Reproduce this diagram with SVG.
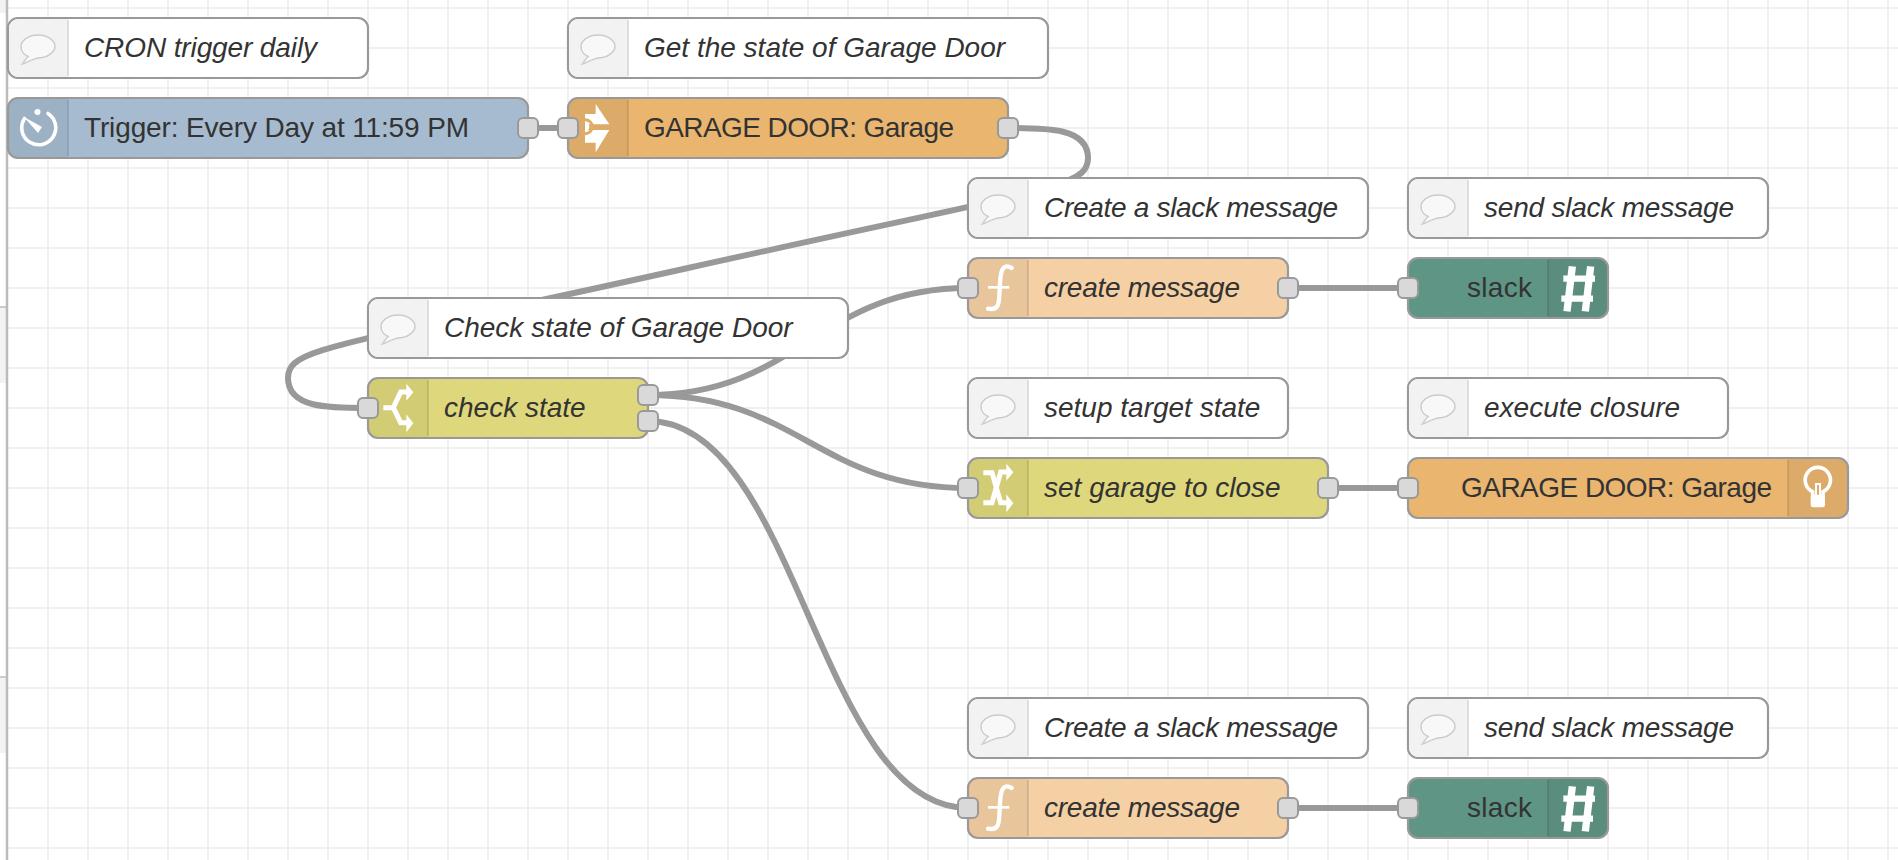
<svg xmlns="http://www.w3.org/2000/svg" width="1898" height="860" viewBox="0 0 1898 860">
<style>
.g{stroke:#f0f0f0;stroke-width:2;fill:none}
.w{stroke:#999;stroke-width:6;fill:none}
.b{stroke:#999;stroke-width:2.200}
.p{fill:#d9d9d9;stroke:#999;stroke-width:2}
.sh{fill:#000;fill-opacity:.05}
.sep{stroke:#000;stroke-opacity:.1;stroke-width:2}
text{font-family:"Liberation Sans",Arial,sans-serif;font-size:28px;fill:#333}
.i{font-style:italic}
.c{fill:#fff}
.cs{fill:#f2f2f2}
.csep{stroke:#ddd;stroke-width:2}
.ic{fill:none;stroke:#fff}
.if{fill:#fff}
</style>
<defs>
<path id="grid" class="g" d="M48 0V860M88 0V860M128 0V860M168 0V860M208 0V860M248 0V860M288 0V860M328 0V860M368 0V860M408 0V860M448 0V860M488 0V860M528 0V860M568 0V860M608 0V860M648 0V860M688 0V860M728 0V860M768 0V860M808 0V860M848 0V860M888 0V860M928 0V860M968 0V860M1008 0V860M1048 0V860M1088 0V860M1128 0V860M1168 0V860M1208 0V860M1248 0V860M1288 0V860M1328 0V860M1368 0V860M1408 0V860M1448 0V860M1488 0V860M1528 0V860M1568 0V860M1608 0V860M1648 0V860M1688 0V860M1728 0V860M1768 0V860M1808 0V860M1848 0V860M1888 0V860M8 8H1898M8 48H1898M8 88H1898M8 128H1898M8 168H1898M8 208H1898M8 248H1898M8 288H1898M8 328H1898M8 368H1898M8 408H1898M8 448H1898M8 488H1898M8 528H1898M8 568H1898M8 608H1898M8 648H1898M8 688H1898M8 728H1898M8 768H1898M8 808H1898M8 848H1898"/>
<path id="bubble" d="M28 56.500C25 59 24 62 22.500 64C27 63 32 59 38 58C47 58 55 52 55 46.500C55 40 47 35 38 35C29 35 21 40 21 46.500C21 51 24 55 28 56.500Z" fill="#f8f8f8" stroke="#ccc" stroke-width="1.500"/>
<g id="i-f" transform="scale(.3333)"><path class="ic" stroke-width="13" stroke-linecap="round" d="M155 54C126 38 122 66 120 100C116 150 124 184 84 176"/><path class="ic" stroke-width="8" d="M84 112H148"/></g>
<g id="i-sw" transform="scale(.3333)"><path class="ic" stroke-width="15" d="M70 113H100L122 66H145M100 113L122 158H145"/><path class="if" d="M139 41L160 67L139 92ZM139 133L160 160L139 187Z"/></g>
<g id="i-ch" transform="scale(.3333)"><path class="ic" stroke-width="15" d="M70 68H96L122 158H145M70 158H96L122 66H145"/><path class="if" d="M139 41L160 67L139 92ZM139 133L160 160L139 187Z"/></g>
<g id="i-in" transform="scale(.3333)"><path class="if" d="M75 72H107V42L148 103H75ZM75 158H107V187L148 120H75Z"/><path fill="none" stroke="#dfad69" stroke-width="9" d="M75 89A22 21 0 0 1 75 131"/><path class="if" d="M75 97A13 13 0 0 1 75 123Z"/></g>
<g id="i-bulb" transform="scale(.3333)"><path class="ic" stroke-width="11" d="M128 138V125A38 38 0 1 1 159 125V138"/><path class="ic" stroke-width="6" d="M138 135V102H150V135"/><rect class="if" x="122" y="134" width="43" height="38" rx="7"/></g>
<g id="i-hash" transform="scale(.3333)"><path class="ic" stroke-width="22" d="M127 49L111 184M182 49L166 184"/><path class="ic" stroke-width="19" d="M100 86H195M94 146H189"/></g>
<g id="i-time"><path class="ic" stroke-width="3.600" stroke-linecap="round" d="M48 113.500A17 17 0 1 1 24.500 118.500"/><circle class="if" cx="37.500" cy="112" r="3"/><path class="if" d="M24 117L42 127L38 133Z"/></g>
</defs>
<rect width="1898" height="860" fill="#fff"/>
<g id="chrome">
<rect width="7" height="13" fill="#f2f2f2"/>
<rect y="307" width="7" height="76" fill="#f3f3f3"/>
<path d="M0 307H7" stroke="#ccc" stroke-width="2"/>
<rect y="677" width="7" height="76" fill="#f3f3f3"/>
<path d="M0 677H7" stroke="#ccc" stroke-width="2"/>
<use href="#grid"/>
<path d="M7 0V860" stroke="#bbb" stroke-width="2.500"/>
</g>
<g id="connectors">
<path class="w" d="M528 128H568"/>
<path class="w" d="M1008 128C1048 128 1088 128 1088 158S1048 188 688 268S288 348 288 378S328 408 368 408"/>
<path class="w" d="M648 395C798 395 818 288 968 288"/>
<path class="w" d="M648 395C798 395 818 488 968 488"/>
<path class="w" d="M648 421C798 421 818 808 968 808"/>
<path class="w" d="M1288 288H1408"/>
<path class="w" d="M1328 488H1408"/>
<path class="w" d="M1288 808H1408"/>
</g>
<g id="c1"><rect class="c b" x="8" y="18" width="360" height="60" rx="10"/><path class="cs" d="M18 19H68V77H18A9 9 0 0 1 9 68V28A9 9 0 0 1 18 19Z"/><path class="csep" d="M68 20V76"/><use href="#bubble"/><text class="i" x="84" y="56.500" textLength="233">CRON trigger daily</text></g>
<g id="c2"><rect class="c b" x="568" y="18" width="480" height="60" rx="10"/><path class="cs" d="M578 19H628V77H578A9 9 0 0 1 569 68V28A9 9 0 0 1 578 19Z"/><path class="csep" d="M628 20V76"/><use href="#bubble" x="560"/><text class="i" x="644" y="56.500">Get the state of Garage Door</text></g>
<g id="n-trigger"><rect class="b" x="8" y="98" width="520" height="60" rx="10" fill="#a6bbcf"/><path class="sh" d="M18 99H68V157H18A9 9 0 0 1 9 148V108A9 9 0 0 1 18 99Z"/><path class="sep" d="M68 100V156"/><use href="#i-time"/><text x="84" y="136.500" textLength="385">Trigger: Every Day at 11:59 PM</text><rect class="p" x="518" y="118" width="20" height="20" rx="5"/></g>
<g id="n-garage1"><rect class="b" x="568" y="98" width="440" height="60" rx="10" fill="#e9b56f"/><path class="sh" d="M578 99H628V157H578A9 9 0 0 1 569 148V108A9 9 0 0 1 578 99Z"/><path class="sep" d="M628 100V156"/><use href="#i-in" x="560" y="90"/><text x="644" y="136.500" textLength="310">GARAGE DOOR: Garage</text><rect class="p" x="558" y="118" width="20" height="20" rx="5"/><rect class="p" x="998" y="118" width="20" height="20" rx="5"/></g>
<g id="c3"><rect class="c b" x="968" y="178" width="400" height="60" rx="10"/><path class="cs" d="M978 179H1028V237H978A9 9 0 0 1 969 228V188A9 9 0 0 1 978 179Z"/><path class="csep" d="M1028 180V236"/><use href="#bubble" x="960" y="160"/><text class="i" x="1044" y="216.500" textLength="294">Create a slack message</text></g>
<g id="c4"><rect class="c b" x="1408" y="178" width="360" height="60" rx="10"/><path class="cs" d="M1418 179H1468V237H1418A9 9 0 0 1 1409 228V188A9 9 0 0 1 1418 179Z"/><path class="csep" d="M1468 180V236"/><use href="#bubble" x="1400" y="160"/><text class="i" x="1484" y="216.500" textLength="250">send slack message</text></g>
<g id="n-create1"><rect class="b" x="968" y="258" width="320" height="60" rx="10" fill="#f5d0a4"/><path class="sh" d="M978 259H1028V317H978A9 9 0 0 1 969 308V268A9 9 0 0 1 978 259Z"/><path class="sep" d="M1028 260V316"/><use href="#i-f" x="960" y="250"/><text class="i" x="1044" y="296.500" textLength="196">create message</text><rect class="p" x="958" y="278" width="20" height="20" rx="5"/><rect class="p" x="1278" y="278" width="20" height="20" rx="5"/></g>
<g id="n-slack1"><rect class="b" x="1408" y="258" width="200" height="60" rx="10" fill="#5f9585"/><path class="sh" d="M1548 259H1598A9 9 0 0 1 1607 268V308A9 9 0 0 1 1598 317H1548Z"/><path class="sep" d="M1548 260V316"/><use href="#i-hash" x="1530" y="250"/><text x="1467" y="296.500" textLength="65">slack</text><rect class="p" x="1398" y="278" width="20" height="20" rx="5"/></g>
<g id="c5"><rect class="c b" x="368" y="298" width="480" height="60" rx="10"/><path class="cs" d="M378 299H428V357H378A9 9 0 0 1 369 348V308A9 9 0 0 1 378 299Z"/><path class="csep" d="M428 300V356"/><use href="#bubble" x="360" y="280"/><text class="i" x="444" y="336.500">Check state of Garage Door</text></g>
<g id="n-check"><rect class="b" x="368" y="378" width="280" height="60" rx="10" fill="#ded77b"/><path class="sh" d="M378 379H428V437H378A9 9 0 0 1 369 428V388A9 9 0 0 1 378 379Z"/><path class="sep" d="M428 380V436"/><use href="#i-sw" x="360" y="370"/><text class="i" x="444" y="416.500">check state</text><rect class="p" x="358" y="398" width="20" height="20" rx="5"/><rect class="p" x="638" y="385" width="20" height="20" rx="5"/><rect class="p" x="638" y="411" width="20" height="20" rx="5"/></g>
<g id="c6"><rect class="c b" x="968" y="378" width="320" height="60" rx="10"/><path class="cs" d="M978 379H1028V437H978A9 9 0 0 1 969 428V388A9 9 0 0 1 978 379Z"/><path class="csep" d="M1028 380V436"/><use href="#bubble" x="960" y="360"/><text class="i" x="1044" y="416.500">setup target state</text></g>
<g id="c7"><rect class="c b" x="1408" y="378" width="320" height="60" rx="10"/><path class="cs" d="M1418 379H1468V437H1418A9 9 0 0 1 1409 428V388A9 9 0 0 1 1418 379Z"/><path class="csep" d="M1468 380V436"/><use href="#bubble" x="1400" y="360"/><text class="i" x="1484" y="416.500">execute closure</text></g>
<g id="n-set"><rect class="b" x="968" y="458" width="360" height="60" rx="10" fill="#ded77b"/><path class="sh" d="M978 459H1028V517H978A9 9 0 0 1 969 508V468A9 9 0 0 1 978 459Z"/><path class="sep" d="M1028 460V516"/><use href="#i-ch" x="960" y="450"/><text class="i" x="1044" y="496.500">set garage to close</text><rect class="p" x="958" y="478" width="20" height="20" rx="5"/><rect class="p" x="1318" y="478" width="20" height="20" rx="5"/></g>
<g id="n-garage2"><rect class="b" x="1408" y="458" width="440" height="60" rx="10" fill="#e9b56f"/><path class="sh" d="M1788 459H1838A9 9 0 0 1 1847 468V508A9 9 0 0 1 1838 517H1788Z"/><path class="sep" d="M1788 460V516"/><use href="#i-bulb" x="1770" y="450"/><text x="1461" y="496.500" textLength="311">GARAGE DOOR: Garage</text><rect class="p" x="1398" y="478" width="20" height="20" rx="5"/></g>
<g id="c8"><rect class="c b" x="968" y="698" width="400" height="60" rx="10"/><path class="cs" d="M978 699H1028V757H978A9 9 0 0 1 969 748V708A9 9 0 0 1 978 699Z"/><path class="csep" d="M1028 700V756"/><use href="#bubble" x="960" y="680"/><text class="i" x="1044" y="736.500" textLength="294">Create a slack message</text></g>
<g id="c9"><rect class="c b" x="1408" y="698" width="360" height="60" rx="10"/><path class="cs" d="M1418 699H1468V757H1418A9 9 0 0 1 1409 748V708A9 9 0 0 1 1418 699Z"/><path class="csep" d="M1468 700V756"/><use href="#bubble" x="1400" y="680"/><text class="i" x="1484" y="736.500" textLength="250">send slack message</text></g>
<g id="n-create2"><rect class="b" x="968" y="778" width="320" height="60" rx="10" fill="#f5d0a4"/><path class="sh" d="M978 779H1028V837H978A9 9 0 0 1 969 828V788A9 9 0 0 1 978 779Z"/><path class="sep" d="M1028 780V836"/><use href="#i-f" x="960" y="770"/><text class="i" x="1044" y="816.500" textLength="196">create message</text><rect class="p" x="958" y="798" width="20" height="20" rx="5"/><rect class="p" x="1278" y="798" width="20" height="20" rx="5"/></g>
<g id="n-slack2"><rect class="b" x="1408" y="778" width="200" height="60" rx="10" fill="#5f9585"/><path class="sh" d="M1548 779H1598A9 9 0 0 1 1607 788V828A9 9 0 0 1 1598 837H1548Z"/><path class="sep" d="M1548 780V836"/><use href="#i-hash" x="1530" y="770"/><text x="1467" y="816.500" textLength="65">slack</text><rect class="p" x="1398" y="798" width="20" height="20" rx="5"/></g>
</svg>
